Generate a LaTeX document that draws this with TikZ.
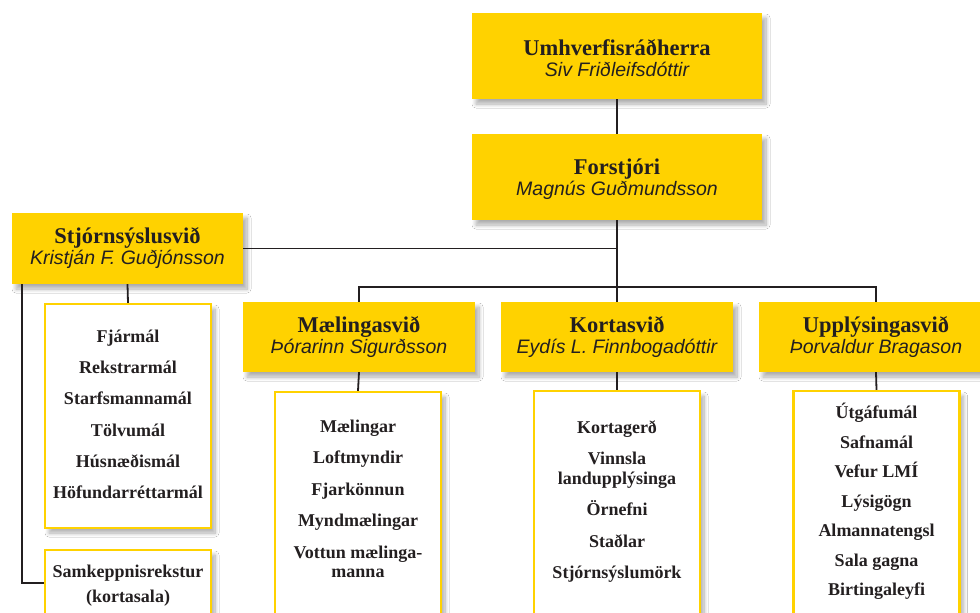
\documentclass[tikz,border=0pt]{standalone}
\usepackage{fontspec}
\setmainfont{Liberation Serif}
\newfontfamily\namefont{Liberation Sans}
\usetikzlibrary{shadows.blur}
\definecolor{lmiyellow}{RGB}{255,210,0}
\definecolor{inkc}{RGB}{35,31,32}
\begin{document}
\begin{tikzpicture}[x=1pt,y=-1pt,
  shad/.style={blur shadow={shadow xshift=4pt,shadow yshift=-5pt,shadow blur radius=4pt,shadow blur steps=10,shadow opacity=32}},
  ybox/.style={shad,fill=lmiyellow,draw=none,inner sep=0pt,minimum width=#1},
  ybox/.default=231pt,
  wbox/.style={shad,fill=white,draw=lmiyellow,line width=2.4pt,inner sep=0pt,minimum width=166pt},
  conn/.style={draw=inkc,line width=1.8pt},
  ttl/.style={anchor=base,inner sep=0pt,text=inkc,font=\fontsize{22.5}{26}\selectfont\bfseries},
  nm/.style={anchor=base,inner sep=0pt,text=inkc,font=\namefont\itshape\fontsize{19.5}{22}\selectfont},
  itm/.style={anchor=base,inner sep=0pt,text=inkc,font=\fontsize{18}{20}\selectfont\bfseries}]
\useasboundingbox (0,0) rectangle (980,613);
\clip (0,0) rectangle (980,613);
\fill[white] (0,0) rectangle (980,613);

% yellow boxes
\node[ybox=290pt,minimum height=86pt] (min) at (617,56) {};
\node[ybox=290pt,minimum height=86pt] (forst) at (617,177) {};
\node[ybox,minimum height=71pt] (stj) at (127.5,248.5) {};
\node[ybox=232pt,minimum height=70pt] (mael) at (359,337) {};
\node[ybox=232pt,minimum height=70pt] (korta) at (617,337) {};
\node[ybox=234pt,minimum height=70pt] (upp) at (876,337) {};

% white boxes
\node[wbox,minimum height=224pt] (stjI) at (128,416) {};
\node[wbox,minimum height=66pt] (samk) at (128,583) {};
\node[wbox,minimum height=238pt] (maelI) at (358,511) {};
\node[wbox,minimum height=239pt] (kortaI) at (617,510.5) {};
\node[wbox,minimum height=239pt] (uppI) at (876.5,510.5) {};

% connectors
\coordinate (bar) at (617,287);
\draw[conn] (min.south) -- (forst.north);
\draw[conn] (forst.south) -- (korta.north);
\draw[conn] (stj.east) -- (stj.east -| forst.south);
\draw[conn] (mael.north) -- (mael.north |- bar) -| (upp.north);
\draw[conn] (stj.south) -- (stjI.north);
\draw[conn] ([xshift=10pt]stj.south west) |- (samk.west);
\draw[conn] (mael.south) -- (maelI.north);
\draw[conn] (korta.south) -- (kortaI.north);
\draw[conn] (upp.south) -- (uppI.north);

% heading texts
\node[ttl] (minT) at (617,55) {Umhverfisráðherra};
\node[nm] (minN) at (617,76) {Siv Friðleifsdóttir};
\node[ttl] (forstT) at (617,174) {Forstjóri};
\node[nm] (forstN) at (617,195) {Magnús Guðmundsson};
\node[ttl] (stjT) at (127.5,243) {Stjórnsýslusvið};
\node[nm] (stjN) at (127.5,264) {Kristján F. Guðjónsson};
\node[ttl] (maelT) at (359,332) {Mælingasvið};
\node[nm] (maelN) at (359,353) {Þórarinn Sigurðsson};
\node[ttl] (kortaT) at (617,332) {Kortasvið};
\node[nm] (kortaN) at (617,353) {Eydís L. Finnbogadóttir};
\node[ttl] (uppT) at (876,332) {Upplýsingasvið};
\node[nm] (uppN) at (876,353) {Þorvaldur Bragason};

% items
\node[itm] (s1) at (128,342) {Fjármál};
\node[itm] (s2) at (128,373) {Rekstrarmál};
\node[itm] (s3) at (128,404.5) {Starfsmannamál};
\node[itm] (s4) at (128,436) {Tölvumál};
\node[itm] (s5) at (128,467) {Húsnæðismál};
\node[itm] (s6) at (128,498.5) {Höfundarréttarmál};
\node[itm] (k1) at (128,577) {Samkeppnisrekstur};
\node[itm] (k2) at (128,602) {(kortasala)};

\node[itm] (m1) at (358,432) {Mælingar};
\node[itm] (m2) at (358,463) {Loftmyndir};
\node[itm] (m3) at (358,495) {Fjarkönnun};
\node[itm] (m4) at (358,526) {Myndmælingar};
\node[itm] (m5) at (358,558) {Vottun mælinga-};
\node[itm] (m6) at (358,577) {manna};

\node[itm] (c1) at (617,433) {Kortagerð};
\node[itm] (c2) at (617,464) {Vinnsla};
\node[itm] (c3) at (617,484) {landupplýsinga};
\node[itm] (c4) at (617,515) {Örnefni};
\node[itm] (c5) at (617,547) {Staðlar};
\node[itm] (c6) at (617,578) {Stjórnsýslumörk};

\node[itm] (u1) at (876.5,418) {Útgáfumál};
\node[itm] (u2) at (876.5,448) {Safnamál};
\node[itm] (u3) at (876.5,477) {Vefur LMÍ};
\node[itm] (u4) at (876.5,507) {Lýsigögn};
\node[itm] (u5) at (876.5,536) {Almannatengsl};
\node[itm] (u6) at (876.5,566) {Sala gagna};
\node[itm] (u7) at (876.5,595) {Birtingaleyfi};
\end{tikzpicture}
\end{document}
